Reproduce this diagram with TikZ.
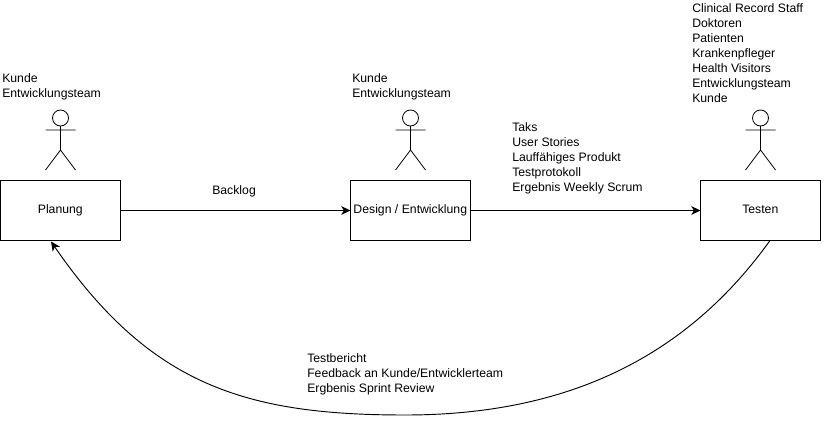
\documentclass[tikz,border=0pt]{standalone}
\usepackage{fontspec}
\setmainfont{Liberation Sans}
\usetikzlibrary{arrows.meta}
\tikzset{
    phase/.style={draw,line width=0.8pt,minimum width=89.6pt,minimum height=45pt,inner sep=0pt,outer sep=0pt,text height=6pt,text depth=2.2pt,font=\fontsize{9.18}{11.25}\selectfont},
    note/.style={anchor=north west,align=left,inner sep=0pt,font=\fontsize{9.18}{11.25}\selectfont},
    flow/.style={line width=0.8pt,-{Stealth[length=7pt,width=6.5pt,inset=2pt]}},
    pics/actor/.style={code={
        \draw[line width=0.6pt] (0,-52) circle (8);
        \draw[line width=0.6pt] (0,-44)--(0,-20) (-15,-40)--(15,-40) (-15,0)--(0,-20)--(15,0);
    }}
}
\begin{document}
\begin{tikzpicture}[x=0.75pt,y=-0.75pt]
        \useasboundingbox (0,0) rectangle (832,432);
        \node[phase] (planung) at (60.3,210.5) {Planung};
        \node[phase] (design) at (410.3,210.5) {Design / Entwicklung};
        \node[phase] (testen) at (760.3,210.5) {Testen};
        \pic at (60.5,170) {actor};
        \pic at (410.5,170) {actor};
        \pic at (760.5,170) {actor};
        \node[note] (planungwho) at (2,73) {Kunde\\Entwicklungsteam};
        \node[note] (designwho) at (352,73) {Kunde\\Entwicklungsteam};
        \node[note] (testenwho) at (692,3) {Clinical Record Staff\\Doktoren\\Patienten\\Krankenpfleger\\Health Visitors\\Entwicklungsteam\\Kunde};
        \node[note] (backlog) at (212,185) {Backlog};
        \node[note] (artefakte) at (512,122) {Taks\\User Stories\\Lauffähiges Produkt\\Testprotokoll\\Ergebnis Weekly Scrum};
        \node[note] (feedback) at (307,353.5) {Testbericht\\Feedback an Kunde/Entwicklerteam\\Ergbenis Sprint Review};
        \coordinate (curvefrom) at (770,240.5);
        \coordinate (curveto) at (51,241.5);
        \draw[flow] (planung)--(design);
        \draw[flow] (design)--(testen);
        \draw[flow,line width=0.7pt] (curvefrom) .. controls (680,366) and (555,415) .. (405,415) .. controls (245,415) and (150,385) .. (curveto);
    \end{tikzpicture}
\end{document}
